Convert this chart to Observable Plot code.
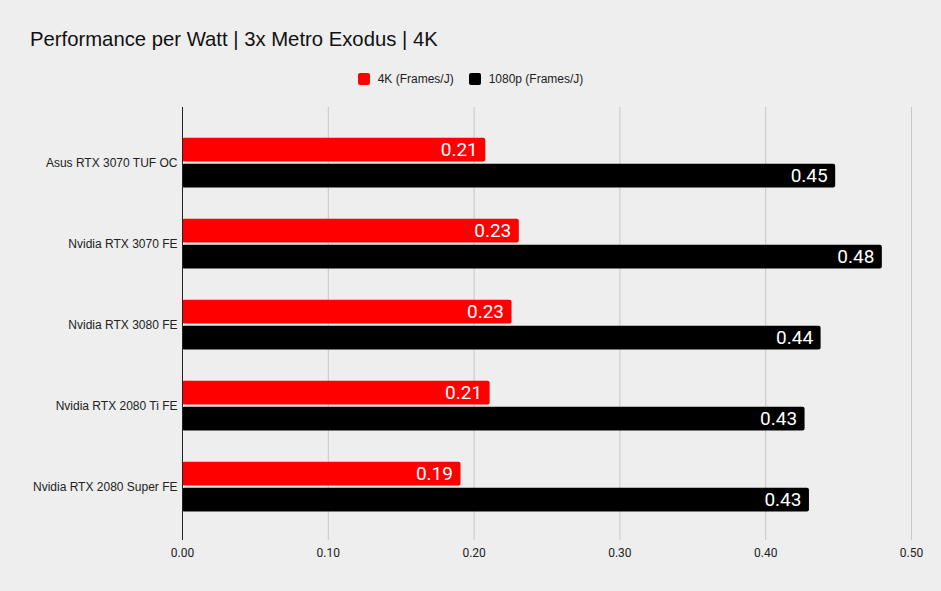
<!DOCTYPE html>
<html><head><meta charset="utf-8">
<script src="https://cdn.jsdelivr.net/npm/d3@7"></script>
<script src="https://cdn.jsdelivr.net/npm/@observablehq/plot@0.6"></script>
<style>
body{margin:0;background:#eeeeee;font-family:Roboto,sans-serif;width:941px;height:591px;overflow:hidden;position:relative}
#title{position:absolute;left:30px;top:28px;font-size:20.3px;color:#111;white-space:nowrap;font-family:"Liberation Sans",Arial,sans-serif}
#legend{position:absolute;top:72px;left:0;width:941px;display:flex;justify-content:center;font-size:12px;color:#222;font-family:"Liberation Sans",Arial,sans-serif}
.item{display:flex;align-items:center;margin:0 7.5px}
.sw{width:12px;height:12px;border-radius:2px;margin-right:8px}
#chart{position:absolute;left:0;top:95px}
</style></head>
<body>
<div id="title">Performance per Watt | 3x Metro Exodus | 4K</div>
<div id="legend"></div>
<div id="chart"></div>
<script>
const gpus = ["Asus RTX 3070 TUF OC","Nvidia RTX 3070 FE","Nvidia RTX 3080 FE","Nvidia RTX 2080 Ti FE","Nvidia RTX 2080 Super FE"];
const fps4k = [0.208, 0.231, 0.226, 0.211, 0.191];
const fps1080 = [0.448, 0.480, 0.438, 0.427, 0.430];
const seriesNames = ["4K (Frames/J)", "1080p (Frames/J)"];
const seriesColors = ["#ff0000", "#000000"];
const xTicks = [0, 0.1, 0.2, 0.3, 0.4, 0.5];

const fmt = d3.format(".2f");
const rows4k = gpus.map((g, i) => ({gpu: g, v: fps4k[i]}));
const rows1080 = gpus.map((g, i) => ({gpu: g, v: fps1080[i]}));

const leg = document.getElementById("legend");
seriesNames.forEach((n, i) => {
  const it = document.createElement("div"); it.className = "item";
  const sw = document.createElement("div"); sw.className = "sw"; sw.style.background = seriesColors[i];
  const t = document.createElement("span"); t.textContent = n;
  it.appendChild(sw); it.appendChild(t); leg.appendChild(it);
});

const chart = Plot.plot({
  width: 941, height: 496,
  marginTop: 12, marginBottom: 51, marginLeft: 182, marginRight: 30,
  style: {background: "transparent", fontFamily: "Roboto, sans-serif", fontSize: "12px", color: "#222"},
  x: {domain: [0, 0.5], ticks: xTicks, tickFormat: fmt, tickSize: 0, tickPadding: 8, label: null},
  y: {domain: gpus, padding: 0, insetTop: 14, insetBottom: 13, tickSize: 0, tickPadding: 5, label: null},
  marks: [
    Plot.ruleX(xTicks.slice(1), {stroke: "#c6c6c6", strokeWidth: 1}),
    Plot.barX(rows4k, {x: "v", y: "gpu", fill: seriesColors[0], insetTop: 15.7, insetBottom: 41.6, rx: 2}),
    Plot.barX(rows1080, {x: "v", y: "gpu", fill: seriesColors[1], insetTop: 41.7, insetBottom: 15.6, rx: 2}),
    Plot.text(rows4k, {x: "v", y: "gpu", text: d => fmt(d.v), dx: -8, dy: -13, textAnchor: "end", fill: "white", fontSize: 19}),
    Plot.text(rows1080, {x: "v", y: "gpu", text: d => fmt(d.v), dx: -8, dy: 13, textAnchor: "end", fill: "white", fontSize: 19}),
    Plot.ruleX([0], {stroke: "#222", strokeWidth: 1})
  ]
});
const yAxis = chart.querySelector('g[aria-label="y-axis tick label"]') || chart.querySelector('g[aria-label="y-axis"]');
if (yAxis) yAxis.setAttribute("font-family", "Liberation Sans, Arial, sans-serif");
document.getElementById("chart").appendChild(chart);
</script>
</body></html>
